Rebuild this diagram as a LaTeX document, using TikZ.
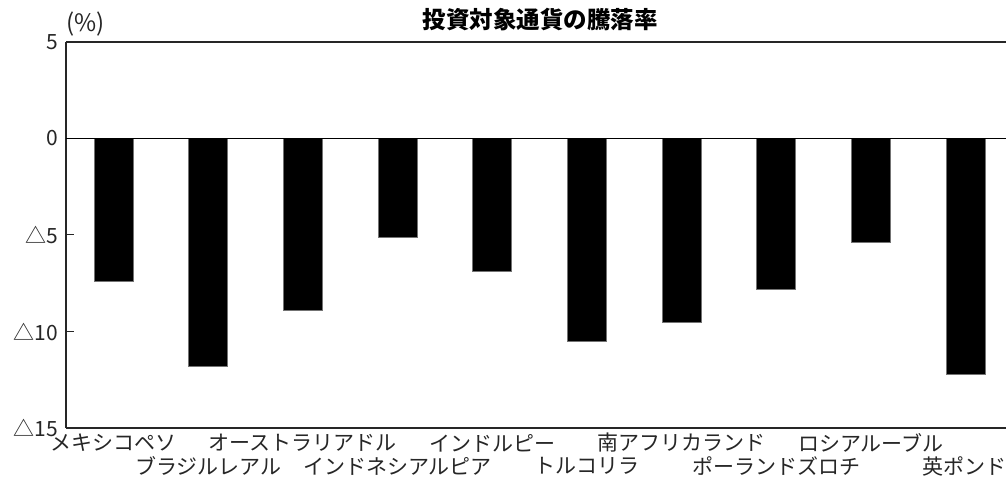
\documentclass[tikz,border=0pt]{standalone}
\usepackage{fontspec}
\setmainfont{Noto Sans CJK JP}
\begin{document}
\begin{tikzpicture}[x=1pt,y=1pt,
  lbl/.style={font=\fontsize{21}{21}\selectfont, text=black!85, inner sep=0pt},
  ticklbl/.style={lbl, anchor=east},
  cat/.style={lbl, anchor=center},
  ttl/.style={font=\fontsize{23.5}{23.5}\selectfont\bfseries, text=black, inner sep=0pt},
  axis/.style={draw=black!85, line width=1.3pt},
  bar/.style={fill=black, draw=black!55, line width=0.6pt}]
\useasboundingbox (0,0) rectangle (1006,481);
% bars
\foreach \v [count=\i from 0] in {-7.4,-11.8,-8.9,-5.1,-6.9,-10.5,-9.5,-7.8,-5.4,-12.2} {
  \path[bar] ({94+94.67*\i},342.5) rectangle ({133+94.67*\i},{342.5+19.3*\v});
}
% axes
\coordinate (tl) at (66,439);
\coordinate (tr) at (1006,439);
\coordinate (zl) at (66,342.5);
\coordinate (zr) at (1006,342.5);
\coordinate (bl) at (66,53);
\coordinate (br) at (1006,53);
\coordinate (t5a) at (66,246);
\coordinate (t5b) at (74,246);
\coordinate (t10a) at (66,149.5);
\coordinate (t10b) at (74,149.5);
\draw[axis] (tl) -- (tr);
\draw[axis] (bl) -- (br);
\draw[axis] (tl) -- (bl);
\draw[draw=black, line width=1pt] (zl) -- (zr);
\draw[draw=black!85, line width=1pt] (t5a) -- (t5b);
\draw[draw=black!85, line width=1pt] (t10a) -- (t10b);
% tick labels
\node[ticklbl] (y5) at (58,439) {5};
\node[ticklbl] (y0) at (58,342.5) {0};
\node[ticklbl] (ym5) at (58,246) {△5};
\node[ticklbl] (ym10) at (58,149.5) {△10};
\node[ticklbl] (ym15) at (58,53) {△15};
\node[lbl, anchor=west, font=\fontsize{24}{24}\selectfont] (pct) at (66,457) {(\%)};
% title
\node[ttl] (title) at (540,461) {投資対象通貨の騰落率};
% category labels
\node[cat] (c1) at (113.5,38) {メキシコペソ};
\node[cat] (c2) at (208.2,15) {ブラジルレアル};
\node[cat] (c3) at (302.8,38) {オーストラリアドル};
\node[cat] (c4) at (397.5,15) {インドネシアルピア};
\node[cat] (c5) at (492.2,38) {インドルピー};
\node[cat] (c6) at (586.8,15) {トルコリラ};
\node[cat] (c7) at (681.5,38) {南アフリカランド};
\node[cat] (c8) at (776.2,15) {ポーランドズロチ};
\node[cat] (c9) at (870.8,38) {ロシアルーブル};
\node[cat] (c10) at (964,15) {英ポンド};
\end{tikzpicture}
\end{document}
